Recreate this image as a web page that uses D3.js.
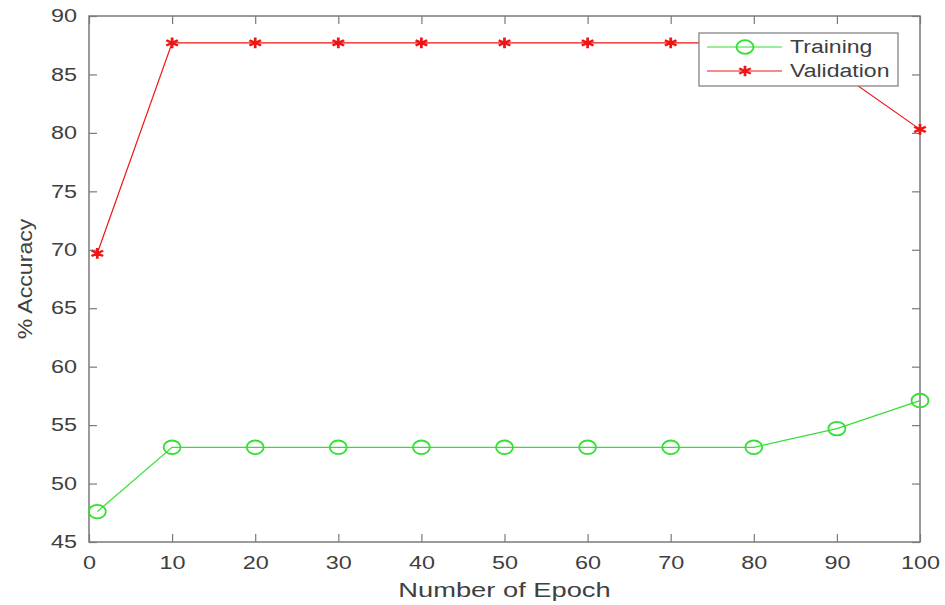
<!DOCTYPE html>
<html>
<head>
<meta charset="utf-8">
<script src="https://cdn.jsdelivr.net/npm/d3@7"></script>
<style>
  body { margin: 0; background: #fff; }
  text { font-family: "Liberation Sans", Arial, sans-serif; fill: #404040; }
</style>
</head>
<body>
<div id="chart"></div>
<script>
// data
const epochs = [1, 10, 20, 30, 40, 50, 60, 70, 80, 90, 100];
const training = [47.6, 53.1, 53.1, 53.1, 53.1, 53.1, 53.1, 53.1, 53.1, 54.7, 57.1];
const validation = [69.7, 87.7, 87.7, 87.7, 87.7, 87.7, 87.7, 87.7, 87.7, 85.3, 80.3];
const xTicks = [0, 10, 20, 30, 40, 50, 60, 70, 80, 90, 100];
const yTicks = [45, 50, 55, 60, 65, 70, 75, 80, 85, 90];

const width = 945, height = 605;
const margin = {top: 16, right: 25, bottom: 63, left: 89};
const stretch = 1.3; // the picture is wider than tall, text looks stretched

let svg = d3.select("#chart").append("svg")
    .attr("width", width)
    .attr("height", height);

let x = d3.scaleLinear().domain([0, 100]).range([margin.left, width - margin.right]);
let y = d3.scaleLinear().domain([45, 90]).range([height - margin.bottom, margin.top]);

const axisColor = "#7a7a7a";

// widen a text horizontally
function widen(sel, k) {
    sel.each(function() {
        let w = this.getComputedTextLength();
        d3.select(this).attr("textLength", w * k).attr("lengthAdjust", "spacingAndGlyphs");
    });
}

// box
svg.append("rect")
    .attr("x", x(0)).attr("y", y(90))
    .attr("width", x(100) - x(0)).attr("height", y(45) - y(90))
    .attr("fill", "none").attr("stroke", axisColor).attr("stroke-width", 1.5);

// axes with inward ticks
let xAxis = svg.append("g")
    .attr("transform", `translate(0,${y(45)})`)
    .call(d3.axisBottom(x).tickValues(xTicks).tickSizeInner(-8).tickSizeOuter(0).tickPadding(14));
let yAxis = svg.append("g")
    .attr("transform", `translate(${x(0)},0)`)
    .call(d3.axisLeft(y).tickValues(yTicks).tickSizeInner(-8).tickSizeOuter(0).tickPadding(12));
// top and right ticks
svg.append("g")
    .attr("transform", `translate(0,${y(90)})`)
    .call(d3.axisTop(x).tickValues(xTicks).tickSizeInner(-8).tickSizeOuter(0).tickFormat(""));
svg.append("g")
    .attr("transform", `translate(${x(100)},0)`)
    .call(d3.axisRight(y).tickValues(yTicks).tickSizeInner(-8).tickSizeOuter(0).tickFormat(""));

svg.selectAll(".domain").remove();
svg.selectAll(".tick line").attr("stroke", axisColor).attr("stroke-width", 1.2);
svg.selectAll(".tick text")
    .attr("font-family", null)
    .attr("font-size", null)
    .style("font-size", "18px")
    .attr("fill", "#404040");
widen(svg.selectAll(".tick text"), stretch);

// axis labels
svg.append("text")
    .attr("x", (x(0) + x(100)) / 2)
    .attr("y", 597)
    .attr("text-anchor", "middle")
    .style("font-size", "21px")
    .text("Number of Epoch")
    .call(widen, stretch);

svg.append("text")
    .attr("transform", `translate(32,${(y(45) + y(90)) / 2}) rotate(-90)`)
    .attr("text-anchor", "middle")
    .style("font-size", "21px")
    .text("% Accuracy")
    .call(widen, 1.1);

let trainData = epochs.map((e, i) => ({e: e, v: training[i]}));
let valData = epochs.map((e, i) => ({e: e, v: validation[i]}));

let line = d3.line().x(d => x(d.e)).y(d => y(d.v));

const green = "#33e033", red = "#f01414";

svg.append("path").datum(trainData)
    .attr("d", line).attr("fill", "none")
    .attr("stroke", green).attr("stroke-width", 1.2);
svg.append("path").datum(valData)
    .attr("d", line).attr("fill", "none")
    .attr("stroke", red).attr("stroke-width", 1.2);

svg.selectAll(".trainMark")
    .data(trainData)
    .enter()
    .append("ellipse")
    .attr("cx", d => x(d.e))
    .attr("cy", d => y(d.v))
    .attr("rx", 8.5)
    .attr("ry", 6.8)
    .attr("fill", "none")
    .attr("stroke", green)
    .attr("stroke-width", 1.8);

let star = d3.symbol().type(d3.symbolAsterisk).size(80);
svg.selectAll(".valMark")
    .data(valData)
    .enter()
    .append("path")
    .attr("transform", d => `translate(${x(d.e)},${y(d.v)}) scale(1.25,1)`)
    .attr("d", star())
    .attr("fill", "none")
    .attr("stroke", red)
    .attr("stroke-width", 2.2);

// legend
let legend = svg.append("g").attr("transform", "translate(699,33)");
legend.append("rect")
    .attr("width", 199).attr("height", 53)
    .attr("fill", "#fff").attr("stroke", axisColor).attr("stroke-width", 1.2);

let entries = [
    {name: "Training", color: green, type: "circle"},
    {name: "Validation", color: red, type: "star"}
];
entries.forEach((d, i) => {
    let yy = 14 + i * 24;
    legend.append("line")
        .attr("x1", 8).attr("x2", 83)
        .attr("y1", yy).attr("y2", yy)
        .attr("stroke", d.color).attr("stroke-width", 1.2);
    if (d.type == "circle") {
        legend.append("ellipse")
            .attr("cx", 46).attr("cy", yy).attr("rx", 8.5).attr("ry", 6.8)
            .attr("fill", "none").attr("stroke", d.color).attr("stroke-width", 1.8);
    } else {
        legend.append("path")
            .attr("transform", `translate(46,${yy}) scale(1.25,1)`)
            .attr("d", star())
            .attr("fill", "none").attr("stroke", d.color).attr("stroke-width", 2.2);
    }
    legend.append("text")
        .attr("x", 91).attr("y", yy + 6)
        .style("font-size", "18px")
        .text(d.name)
        .call(widen, 1.28);
});
</script>
</body>
</html>
